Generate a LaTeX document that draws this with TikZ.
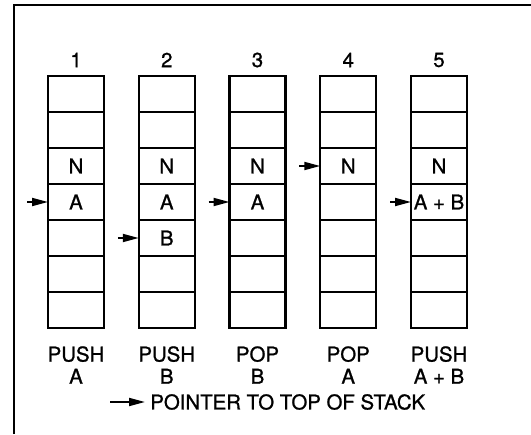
\documentclass[tikz,border=0pt]{standalone}
\usepackage{fontspec}
\setmainfont[FakeBold=1]{TeX Gyre Heros}
\usetikzlibrary{arrows.meta,positioning}

\tikzset{
  cell/.style={draw,line width=1.2pt,minimum width=1.12cm,minimum height=0.72cm,
    inner sep=0pt,outer sep=0pt},
  ptr/.style={line width=1.1pt,-{Triangle[length=0.32cm,width=0.16cm]}},
  lbl/.style={font=\fontsize{11.6}{12.6}\selectfont,align=center,inner sep=0pt}
}
\newcommand{\drawstack}[3]{ % Parameters: stack, x position, operation
  \foreach \r in {1,...,7}
    \node[cell] (s#1-\r) at (#2,{7.52-0.72*\r}) {};
  \node[lbl] (num#1) at (#2,7.48) {#1};
  \node[lbl] (op#1) at (#2,1.38) {#3};
}
\newcommand{\drawentry}[3]{ % Parameters: stack, row, contents
  \node[lbl] (e#1-#2) at (s#1-#2) {#3};
}
\newcommand{\drawpointer}[2]{ % Parameters: stack, row
  \coordinate[left=0.42cm of s#1-#2.west] (p#1);
  \draw[ptr] (p#1) -- (s#1-#2.west);
}

\begin{document}
\begin{tikzpicture}
  \useasboundingbox (0,0) rectangle (10.62,8.68);
  \draw[line width=0.9pt] (0.28,0) -- (0.28,8.58) -- (10.62,8.58);

  \drawstack{1}{1.52}{PUSH\\A}
  \drawstack{2}{3.335}{PUSH\\B}
  \drawstack{3}{5.15}{POP\\B}
  \drawstack{4}{6.965}{POP\\A}
  \drawstack{5}{8.78}{PUSH\\A + B}

  \drawentry{1}{3}{N}
  \drawentry{1}{4}{A}
  \drawentry{2}{3}{N}
  \drawentry{2}{4}{A}
  \drawentry{2}{5}{B}
  \drawentry{3}{3}{N}
  \drawentry{3}{4}{A}
  \drawentry{4}{3}{N}
  \drawentry{5}{3}{N}
  \drawentry{5}{4}{A + B}

  \drawpointer{1}{4}
  \drawpointer{2}{5}
  \drawpointer{3}{4}
  \drawpointer{4}{3}
  \drawpointer{5}{4}

  % legend
  \coordinate (lg) at (2.2,0.64);
  \node[lbl,anchor=west,inner xsep=0.1cm] (legend) at (2.9,0.64) {POINTER TO TOP OF STACK};
  \draw[ptr] (lg) -- (legend.west);
\end{tikzpicture}
\end{document}
